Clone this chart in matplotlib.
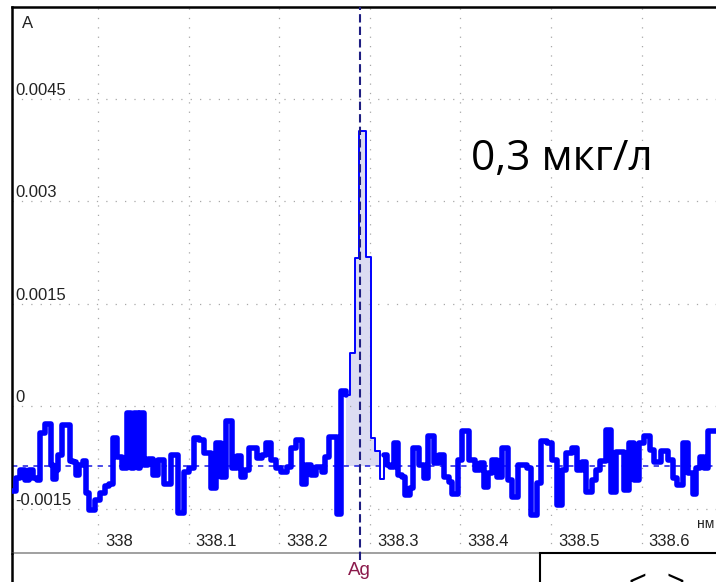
import numpy as np
import matplotlib
matplotlib.use("Agg")
import matplotlib.pyplot as plt
import matplotlib.transforms as mtransforms
from matplotlib.lines import Line2D
from matplotlib.patches import Rectangle

# ---------------- data ----------------
wavelength = [
    337.9051, 337.9095, 337.9139, 337.9194, 337.9238, 337.9283, 337.9327, 337.9360, 337.9415, 337.9481,
    337.9503, 337.9536, 337.9558, 337.9603, 337.9691, 337.9724, 337.9757, 337.9790, 337.9834, 337.9868,
    337.9901, 337.9967, 338.0022, 338.0077, 338.0121, 338.0166, 338.0210, 338.0265, 338.0320, 338.0364,
    338.0397, 338.0442, 338.0464, 338.0508, 338.0552, 338.0607, 338.0662, 338.0728, 338.0806, 338.0883,
    338.0949, 338.1004, 338.1060, 338.1115, 338.1170, 338.1247, 338.1302, 338.1358, 338.1413, 338.1479,
    338.1534, 338.1578, 338.1623, 338.1667, 338.1755, 338.1810, 338.1854, 338.1909, 338.1965, 338.2020,
    338.2086, 338.2130, 338.2185, 338.2252, 338.2296, 338.2351, 338.2406, 338.2472, 338.2506, 338.2550,
    338.2638, 338.2682, 338.2737, 338.2781, 338.2837, 338.2884, 338.2958, 338.3010, 338.3057, 338.3107,
    338.3157, 338.3190, 338.3223, 338.3267, 338.3311, 338.3355, 338.3389, 338.3444, 338.3477, 338.3543,
    338.3598, 338.3642, 338.3709, 338.3764, 338.3819, 338.3874, 338.3907, 338.3974, 338.4018, 338.4095,
    338.4161, 338.4216, 338.4260, 338.4305, 338.4349, 338.4404, 338.4459, 338.4525, 338.4570, 338.4636,
    338.4735, 338.4779, 338.4845, 338.4890, 338.4956, 338.5011, 338.5066, 338.5121, 338.5166, 338.5232,
    338.5287, 338.5342, 338.5386, 338.5453, 338.5497, 338.5541, 338.5607, 338.5662, 338.5717, 338.5806,
    338.5861, 338.5916, 338.5971, 338.6026, 338.6093, 338.6137, 338.6214, 338.6291, 338.6347, 338.6391,
    338.6457, 338.6512, 338.6567, 338.6600, 338.6645, 338.6689, 338.6733,
]
absorbance = [
    -0.001237, -0.001046, -0.000929, -0.001076, -0.000929, -0.001046, -0.001076, -0.000388, -0.000256, -0.000856,
    -0.001061, -0.000929, -0.000710, -0.000271, -0.000798, -0.000812, -0.001002, -0.000856, -0.000798, -0.001266,
    -0.001515, -0.001368, -0.001266, -0.001163, -0.001134, -0.000461, -0.000739, -0.000900, -0.000095, -0.000900,
    -0.000095, -0.000900, -0.000095, -0.000856, -0.000768, -0.001002, -0.000783, -0.001134, -0.000710, -0.001559,
    -0.000959, -0.000900, -0.000461, -0.000490, -0.000680, -0.001193, -0.000534, -0.001032, -0.000212, -0.000900,
    -0.000724, -0.001032, -0.000929, -0.000607, -0.000754, -0.000710, -0.000534, -0.000783, -0.000900, -0.000959,
    -0.000885, -0.000607, -0.000490, -0.001134, -0.000856, -0.001002, -0.000885, -0.000959, -0.000739, -0.000446,
    -0.001573, 0.000227, 0.000168, 0.000783, 0.002173, 0.004032, 0.002188, -0.000461, -0.000651, -0.001061,
    -0.000710, -0.000856, -0.000885, -0.000534, -0.001002, -0.001032, -0.001295, -0.001193, -0.000607, -0.000856,
    -0.001046, -0.000432, -0.000827, -0.000710, -0.001032, -0.001105, -0.001280, -0.000783, -0.000359, -0.000783,
    -0.000929, -0.000827, -0.001178, -0.000973, -0.000783, -0.001032, -0.000607, -0.001076, -0.001324, -0.000856,
    -0.000900, -0.001588, -0.001120, -0.000505, -0.000534, -0.000783, -0.001441, -0.000929, -0.000680, -0.000607,
    -0.000929, -0.000812, -0.001251, -0.001076, -0.000929, -0.000798, -0.000344, -0.001251, -0.000666, -0.001222,
    -0.000534, -0.001076, -0.000534, -0.000432, -0.000637, -0.000812, -0.000651, -0.000783, -0.001046, -0.001149,
    -0.000534, -0.000973, -0.001280, -0.000900, -0.000739, -0.000900, -0.000359,
]
wavelength_end = 338.6821

baseline = -0.00087
ag_line = 338.289
ag_label = "Ag"
line_window = (338.2737, 338.3157)   # analytical-line region drawn thin and filled

x_ticks = [338.0, 338.1, 338.2, 338.3, 338.4, 338.5, 338.6]
x_tick_labels = ["338", "338.1", "338.2", "338.3", "338.4", "338.5", "338.6"]
y_ticks = [0.0045, 0.003, 0.0015, 0.0, -0.0015]
y_tick_labels = ["0.0045", "0.003", "0.0015", "0", "-0.0015"]
y_axis_label = "A"
x_axis_unit = "нм"
annotation = "0,3 мкг/л"

# ---------------- figure ----------------
W, H = 716, 582
fig = plt.figure(figsize=(W / 100, H / 100), dpi=100)
fig.patch.set_facecolor("white")


def fx(px):
    return px / W


def fy(py):
    return 1 - py / H


ax = fig.add_axes([fx(11.5), fy(553), fx(716) - fx(11.5), fy(7) - fy(553)])
ax.set_xlim(337.9045, 338.6821)
ax.set_ylim(-0.002144, 0.005846)

LABEL_FONT = ["Liberation Sans", "DejaVu Sans"]
TXT = "#222222"
BLUE = "#0000ff"

wl = np.array(wavelength + [wavelength_end])
ab = np.array(absorbance + [absorbance[-1]])
k = int(np.searchsorted(wl, line_window[0]))
m = int(np.searchsorted(wl, line_window[1]))

# grid
ax.set_xticks(x_ticks)
ax.set_yticks(y_ticks)
ax.grid(True, color="#a8a8a8", lw=0.9, ls=(0, (1, 6.5)), zorder=0)
ax.tick_params(length=0, labelbottom=False, labelleft=False)

# filled analytical line area
ax.fill_between(wl[k:m + 1], baseline, np.maximum(ab[k:m + 1], baseline),
                step="post", color="#dcdcf2", lw=0, zorder=1)

# baseline
ax.axhline(baseline, color="#1a1ae0", lw=1.1, ls=(0, (3.5, 3.5)), zorder=2)

# spectrum: thick outside the line window, thin inside
kw = dict(where="post", color=BLUE, solid_joinstyle="round", solid_capstyle="round", zorder=3)
ax.step(wl[:k + 1], ab[:k + 1], lw=4.0, **kw)
ax.step(wl[k:m + 1], ab[k:m + 1], lw=1.4, **kw)
ax.step(wl[m:], ab[m:], lw=4.0, **kw)

# Ag marker line
ax.axvline(ag_line, ymin=-7 / 546, ymax=1, clip_on=False, color="#1e1e82",
           lw=1.5, ls=(0, (4, 2)), zorder=4)
ag_tr = mtransforms.blended_transform_factory(ax.transData, fig.transFigure)
ax.text(ag_line, fy(575), ag_label, transform=ag_tr, ha="center", va="baseline",
        fontsize=13.5, family=LABEL_FONT, color="#8b1a4b", clip_on=False)

# tick labels
xt = mtransforms.blended_transform_factory(ax.transData, ax.transAxes) + \
    mtransforms.ScaledTranslation(7 / 100, 6.5 / 100, fig.dpi_scale_trans)
for t, lab in zip(x_ticks, x_tick_labels):
    ax.text(t, 0, lab, transform=xt, ha="left", va="baseline", fontsize=12,
            family=LABEL_FONT, color=TXT)

yt = mtransforms.blended_transform_factory(ax.transAxes, ax.transData) + \
    mtransforms.ScaledTranslation(4 / 100, 4 / 100, fig.dpi_scale_trans)
for t, lab in zip(y_ticks, y_tick_labels):
    ax.text(0, t, lab, transform=yt, ha="left", va="baseline", fontsize=12,
            family=LABEL_FONT, color=TXT)

fig.text(fx(22), fy(28), y_axis_label, ha="left", va="baseline", fontsize=12,
         family=LABEL_FONT, color=TXT)
fig.text(fx(697), fy(528), x_axis_unit, ha="left", va="baseline", fontsize=10,
         family=LABEL_FONT, color=TXT)

# annotation
fig.text(fx(471), fy(170), annotation, ha="left", va="baseline", fontsize=30.5,
         family=["Open Sans", "DejaVu Sans"], color="black")

# spines
for s in ("left", "top"):
    ax.spines[s].set_color("black")
    ax.spines[s].set_linewidth(1.8)
ax.spines["right"].set_visible(False)
ax.spines["bottom"].set_color("#a0a0a0")
ax.spines["bottom"].set_linewidth(1.4)

# left border continuing below the plot
fig.add_artist(Line2D([fx(11.5), fx(11.5)], [fy(553), 0], color="black", lw=1.8))

# bottom-right box with partially visible chevrons (cut off, as in the reference)
fig.add_artist(Rectangle((fx(540), -0.05), 0.5, fy(553) + 0.05, transform=fig.transFigure,
                         facecolor="white", edgecolor="black", lw=1.5, zorder=5))
fig.text(fx(629), fy(592), "<", fontsize=22, family=LABEL_FONT, color="black", zorder=6)
fig.text(fx(667), fy(592), ">", fontsize=22, family=LABEL_FONT, color="black", zorder=6)

fig.savefig("out.png", dpi=100)
